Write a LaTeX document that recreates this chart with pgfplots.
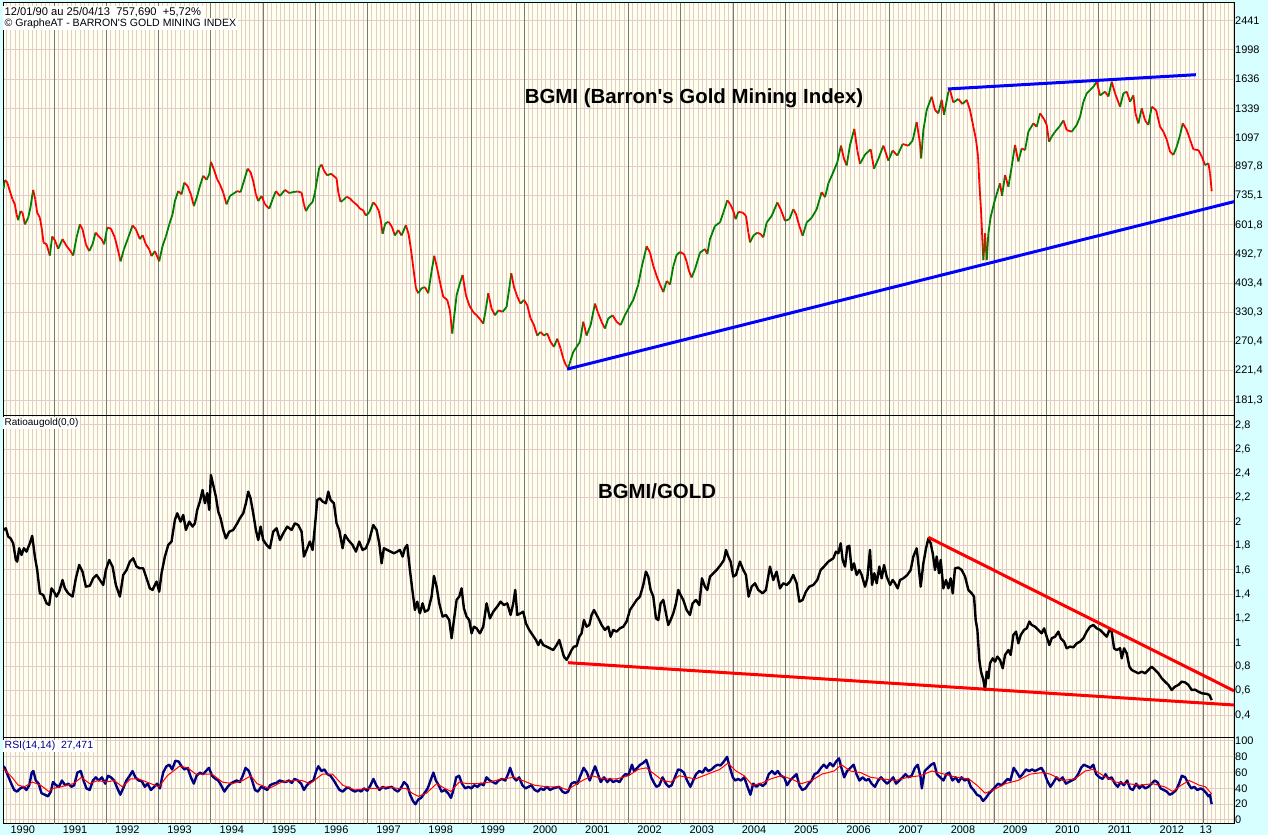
\documentclass[border=0pt]{standalone}
\usepackage{fontspec}
\setmainfont{Liberation Sans}[Ligatures=TeXOff]
\usepackage{pgfplots}
\usepackage{pgfplotstable}
\pgfplotsset{compat=1.18}
\definecolor{bgcyan}{RGB}{215,255,255}
\definecolor{plotbg}{RGB}{255,255,238}
\definecolor{gridpink}{RGB}{228,204,204}
\definecolor{yeargray}{RGB}{120,120,120}
\definecolor{upgreen}{RGB}{0,128,0}
\definecolor{rsinavy}{RGB}{0,0,128}

\pgfplotstableread[row sep=\\]{
t v\\
1990.03 770\\ 1990.056 818\\ 1990.100 806\\ 1990.151 759\\ 1990.203 717\\ 1990.247 693\\ 1990.279 647\\ 1990.311 622\\
1990.356 662\\ 1990.394 654\\ 1990.439 604\\ 1990.503 633\\ 1990.547 680\\ 1990.579 734\\ 1990.598 765\\ 1990.637 717\\
1990.675 654\\ 1990.726 633\\ 1990.764 584\\ 1990.796 533\\ 1990.854 527\\ 1990.917 488\\ 1990.962 556\\ 1991.013 542\\
1991.077 511\\ 1991.160 546\\ 1991.237 521\\ 1991.313 503\\ 1991.364 488\\ 1991.428 552\\ 1991.492 604\\ 1991.543 584\\
1991.607 527\\ 1991.671 503\\ 1991.735 527\\ 1991.792 571\\ 1991.856 556\\ 1991.907 546\\ 1991.958 527\\ 1992.015 591\\
1992.086 587\\ 1992.162 552\\ 1992.226 503\\ 1992.271 469\\ 1992.335 509\\ 1992.418 552\\ 1992.501 600\\ 1992.564 584\\
1992.641 546\\ 1992.692 561\\ 1992.756 527\\ 1992.820 509\\ 1992.864 486\\ 1992.928 503\\ 1993.011 469\\ 1993.075 521\\
1993.139 556\\ 1993.203 604\\ 1993.266 647\\ 1993.311 709\\ 1993.375 759\\ 1993.439 742\\ 1993.490 804\\ 1993.554 786\\
1993.618 742\\ 1993.675 685\\ 1993.739 734\\ 1993.790 786\\ 1993.854 843\\ 1993.918 820\\ 1993.969 852\\ 1994.001 927\\
1994.058 880\\ 1994.122 822\\ 1994.173 795\\ 1994.237 751\\ 1994.301 693\\ 1994.365 734\\ 1994.428 745\\ 1994.505 759\\
1994.569 754\\ 1994.633 813\\ 1994.703 885\\ 1994.760 864\\ 1994.811 813\\ 1994.862 742\\ 1994.907 709\\ 1994.971 734\\
1995.035 693\\ 1995.118 673\\ 1995.181 717\\ 1995.245 759\\ 1995.322 734\\ 1995.418 765\\ 1995.501 749\\ 1995.577 754\\
1995.660 757\\ 1995.737 751\\ 1995.782 693\\ 1995.820 662\\ 1995.884 688\\ 1995.948 704\\ 1995.992 751\\ 1996.024 804\\
1996.075 892\\ 1996.12 910\\ 1996.17 870\\ 1996.23 845\\ 1996.30 855\\ 1996.407 828\\ 1996.439 755\\ 1996.483 705\\
1996.534 713\\ 1996.598 730\\ 1996.662 722\\ 1996.726 705\\ 1996.803 689\\ 1996.854 673\\ 1996.917 665\\ 1996.968 642\\
1997.032 656\\ 1997.109 702\\ 1997.160 689\\ 1997.211 665\\ 1997.249 627\\ 1997.288 566\\ 1997.339 608\\ 1997.402 615\\
1997.466 594\\ 1997.524 560\\ 1997.587 581\\ 1997.651 560\\ 1997.734 601\\ 1997.785 566\\ 1997.830 511\\ 1997.862 467\\
1997.894 427\\ 1997.926 390\\ 1997.971 377\\ 1998.034 390\\ 1998.098 393\\ 1998.162 377\\ 1998.226 438\\ 1998.277 487\\
1998.334 446\\ 1998.398 399\\ 1998.449 368\\ 1998.526 360\\ 1998.577 335\\ 1998.622 286\\ 1998.654 317\\ 1998.705 372\\
1998.769 404\\ 1998.820 427\\ 1998.883 372\\ 1998.947 347\\ 1999.024 331\\ 1999.088 324\\ 1999.164 314\\ 1999.215 306\\
1999.266 339\\ 1999.311 377\\ 1999.375 339\\ 1999.439 324\\ 1999.503 335\\ 1999.586 332\\ 1999.662 343\\ 1999.713 390\\
1999.752 432\\ 1999.803 394\\ 1999.867 368\\ 1999.930 351\\ 1999.994 360\\ 2000.058 347\\ 2000.122 317\\ 2000.186 303\\
2000.249 282\\ 2000.313 289\\ 2000.377 282\\ 2000.441 286\\ 2000.505 270\\ 2000.569 261\\ 2000.632 276\\ 2000.696 258\\
2000.747 241\\ 2000.798 230\\ 2000.843 226\\ 2000.888 238\\ 2000.939 252\\ 2001.003 261\\ 2001.066 270\\ 2001.130 310\\
2001.194 282\\ 2001.271 303\\ 2001.354 351\\ 2001.418 328\\ 2001.481 310\\ 2001.545 296\\ 2001.609 317\\ 2001.692 324\\
2001.769 310\\ 2001.845 303\\ 2001.928 324\\ 2002.011 343\\ 2002.088 360\\ 2002.184 400\\ 2002.248 450\\ 2002.344 520\\
2002.408 498\\ 2002.471 455\\ 2002.535 424\\ 2002.599 400\\ 2002.663 380\\ 2002.727 410\\ 2002.791 400\\ 2002.854 453\\
2002.918 490\\ 2002.982 500\\ 2003.059 493\\ 2003.110 468\\ 2003.154 439\\ 2003.205 420\\ 2003.269 444\\ 2003.365 498\\
2003.461 510\\ 2003.505 493\\ 2003.556 546\\ 2003.652 598\\ 2003.748 612\\ 2003.812 655\\ 2003.888 712\\ 2003.940 696\\
2004.003 663\\ 2004.048 626\\ 2004.099 658\\ 2004.182 655\\ 2004.246 640\\ 2004.291 571\\ 2004.323 534\\ 2004.386 559\\
2004.463 571\\ 2004.527 565\\ 2004.578 553\\ 2004.642 612\\ 2004.737 640\\ 2004.846 702\\ 2004.910 670\\ 2004.993 619\\
2005.076 626\\ 2005.152 670\\ 2005.203 648\\ 2005.267 598\\ 2005.331 559\\ 2005.408 612\\ 2005.503 632\\ 2005.599 670\\
2005.695 754\\ 2005.759 728\\ 2005.823 800\\ 2005.918 865\\ 2005.995 925\\ 2006.065 1036\\ 2006.123 946\\ 2006.174 905\\
2006.237 1040\\ 2006.320 1162\\ 2006.378 1002\\ 2006.429 915\\ 2006.525 975\\ 2006.633 1010\\ 2006.697 885\\ 2006.780 946\\
2006.876 1036\\ 2006.972 935\\ 2007.055 1002\\ 2007.144 968\\ 2007.246 1048\\ 2007.355 1036\\ 2007.437 1073\\ 2007.514 1217\\
2007.578 1052\\ 2007.600 950\\ 2007.642 1153\\ 2007.706 1323\\ 2007.801 1449\\ 2007.865 1323\\ 2007.929 1293\\ 2007.993 1418\\
2008.038 1280\\ 2008.121 1500\\ 2008.152 1516\\ 2008.216 1393\\ 2008.312 1427\\ 2008.389 1378\\ 2008.472 1418\\ 2008.535 1323\\
2008.599 1180\\ 2008.650 1080\\ 2008.689 962\\ 2008.714 800\\ 2008.746 666\\ 2008.772 543\\ 2008.791 473\\ 2008.823 568\\
2008.855 473\\ 2008.887 568\\ 2008.931 636\\ 2008.995 698\\ 2009.059 756\\ 2009.110 800\\ 2009.148 735\\ 2009.206 847\\
2009.270 782\\ 2009.333 897\\ 2009.397 1041\\ 2009.461 930\\ 2009.525 1017\\ 2009.589 1005\\ 2009.652 1140\\ 2009.748 1207\\
2009.812 1180\\ 2009.876 1293\\ 2009.953 1242\\ 2010.004 1194\\ 2010.048 1065\\ 2010.099 1102\\ 2010.163 1140\\ 2010.246 1180\\
2010.323 1232\\ 2010.387 1153\\ 2010.482 1140\\ 2010.578 1194\\ 2010.642 1263\\ 2010.706 1400\\ 2010.770 1483\\ 2010.833 1516\\
2010.897 1552\\ 2010.961 1606\\ 2011.025 1462\\ 2011.121 1500\\ 2011.185 1451\\ 2011.248 1606\\ 2011.312 1483\\ 2011.408 1353\\
2011.472 1483\\ 2011.536 1500\\ 2011.599 1400\\ 2011.663 1462\\ 2011.702 1293\\ 2011.759 1207\\ 2011.823 1338\\ 2011.887 1232\\
2011.950 1194\\ 2012.014 1353\\ 2012.097 1323\\ 2012.174 1180\\ 2012.238 1140\\ 2012.302 1080\\ 2012.365 994\\ 2012.429 972\\
2012.493 1029\\ 2012.557 1114\\ 2012.608 1207\\ 2012.685 1153\\ 2012.748 1080\\ 2012.812 1010\\ 2012.908 1005\\ 2012.972 962\\
2013.036 907\\ 2013.100 918\\ 2013.131 857\\ 2013.163 758\\
}\price
\pgfplotstablecreatecol[create col/expr={sign(\nextrow{v}-\thisrow{v})}]{c}{\price}

\pgfplotsset{
  panel/.style={
    scale only axis, width=1231bp,
    xmin=1990.02, xmax=2013.59,
    axis background/.style={fill=plotbg},
    axis line style={black, line width=1bp},
    major tick length=0pt, minor tick length=0pt,
    tick style={draw=none},
    xtick={1990.4,1991.4,...,2012.4,2013.05},
    minor xtick={1990.0833,1990.1667,...,2013.59},
    xminorgrids=true, xmajorgrids=false, ymajorgrids=true,
    minor grid style={gridpink, line width=1bp},
    major grid style={gridpink, line width=1bp},
    extra x ticks={1991,1992,...,2013},
    extra x tick labels={},
    extra x tick style={xmajorgrids=true, major grid style={yeargray, line width=1bp}},
    yticklabel pos=right,
    yticklabel style={anchor=west, inner sep=1bp, font=\fontsize{11}{12}\selectfont},
    xticklabel style={anchor=north, inner sep=0pt, yshift=-1.5bp, font=\fontsize{11}{12}\selectfont},
  }
}

\begin{document}
\begin{tikzpicture}[x=1bp,y=1bp]
\useasboundingbox (0,0) rectangle (1268,835);
\fill[bgcyan] (0,0) rectangle (1268,835);

% ---------- top panel: BGMI ----------
\begin{axis}[panel, at={(3bp,419bp)}, anchor=south west, height=413bp,
  ymode=log, ymin=162.5, ymax=2755,
  xticklabels={},
  ytick={181.3,221.4,270.4,330.3,403.4,492.7,601.8,735.1,897.8,1097,1339,1636,1998,2441},
  yticklabels={{181,3},{221,4},{270,4},{330,3},{403,4},{492,7},{601,8},{735,1},{897,8},1097,1339,1636,1998,2441},
  colormap={updown}{color=(red) color=(upgreen)},
  point meta min=-1, point meta max=1]
\addplot[mesh, shader=flat corner, point meta=\thisrow{c}, line width=1.8bp] table[x=t,y=v] {\price};
\addplot[blue, line width=3bp] coordinates {(2000.82,224) (2013.59,706)};
\addplot[blue, line width=3bp] coordinates {(2008.11,1528) (2012.86,1685)};
\end{axis}

% ---------- middle panel: ratio ----------
\begin{axis}[panel, at={(3bp,97bp)}, anchor=south west, height=322bp,
  ymin=0.21, ymax=2.874,
  xticklabels={},
  ytick={0.4,0.6,0.8,1,1.2,1.4,1.6,1.8,2,2.2,2.4,2.6,2.8},
  yticklabels={{0,4},{0,6},{0,8},1,{1,2},{1,4},{1,6},{1,8},2,{2,2},{2,4},{2,6},{2,8}}]
\addplot[black, line width=2.4bp, line join=round] coordinates {
(1990.03,1.931) (1990.075,1.945) (1990.120,1.876) (1990.164,1.862) (1990.215,1.821) (1990.266,1.683) (1990.292,1.669)
(1990.330,1.780) (1990.375,1.724) (1990.420,1.780) (1990.471,1.752) (1990.534,1.821) (1990.579,1.882) (1990.630,1.711)
(1990.675,1.600) (1990.726,1.407) (1990.790,1.393) (1990.854,1.324) (1990.905,1.311) (1990.949,1.448) (1990.994,1.421)
(1991.045,1.380) (1991.096,1.421) (1991.160,1.517) (1991.205,1.448) (1991.269,1.407) (1991.352,1.380) (1991.415,1.531)
(1991.479,1.642) (1991.543,1.586) (1991.607,1.462) (1991.683,1.470) (1991.747,1.531) (1991.811,1.559) (1991.875,1.517)
(1991.939,1.476) (1991.990,1.600) (1992.054,1.683) (1992.118,1.628) (1992.181,1.476) (1992.258,1.380) (1992.322,1.559)
(1992.386,1.600) (1992.449,1.669) (1992.513,1.697) (1992.577,1.628) (1992.641,1.614) (1992.705,1.614) (1992.769,1.531)
(1992.832,1.448) (1992.883,1.435) (1992.960,1.504) (1993.011,1.421) (1993.056,1.573) (1993.120,1.711) (1993.184,1.807)
(1993.247,1.835) (1993.311,2.014) (1993.356,2.069) (1993.420,2.000) (1993.471,2.055) (1993.522,1.931) (1993.586,2.000)
(1993.650,1.959) (1993.694,1.986) (1993.739,2.097) (1993.790,2.166) (1993.841,2.262) (1993.886,2.152) (1993.930,2.235)
(1993.969,2.097) (1994.001,2.386) (1994.045,2.304) (1994.096,2.207) (1994.141,2.083) (1994.186,2.028) (1994.237,1.931)
(1994.288,1.862) (1994.352,1.917) (1994.428,1.931) (1994.505,1.986) (1994.556,2.028) (1994.620,2.069) (1994.671,2.152)
(1994.715,2.248) (1994.760,2.193) (1994.811,2.069) (1994.862,1.931) (1994.907,1.848) (1994.952,1.959) (1995.003,1.848)
(1995.067,1.807) (1995.130,1.780) (1995.194,1.917) (1995.258,1.945) (1995.322,1.848) (1995.386,1.903) (1995.462,1.959)
(1995.545,1.931) (1995.609,1.986) (1995.673,1.972) (1995.737,1.917) (1995.782,1.711) (1995.833,1.766) (1995.896,1.835)
(1995.947,1.766) (1995.992,1.959) (1996.037,2.179) (1996.088,2.193) (1996.139,2.166) (1996.203,2.152) (1996.248,2.248)
(1996.292,2.179) (1996.356,2.152) (1996.407,1.986) (1996.458,1.931) (1996.522,1.780) (1996.567,1.890) (1996.631,1.848)
(1996.713,1.807) (1996.777,1.752) (1996.841,1.835) (1996.905,1.766) (1996.969,1.780) (1997.033,1.848) (1997.109,1.972)
(1997.173,1.931) (1997.224,1.821) (1997.269,1.655) (1997.313,1.780) (1997.377,1.766) (1997.441,1.752) (1997.505,1.738)
(1997.569,1.752) (1997.620,1.766) (1997.671,1.711) (1997.715,1.780) (1997.760,1.807) (1997.811,1.600) (1997.862,1.421)
(1997.907,1.269) (1997.952,1.338) (1997.990,1.255) (1998.003,1.242) (1998.054,1.324) (1998.098,1.255) (1998.162,1.269)
(1998.226,1.380) (1998.271,1.551) (1998.322,1.462) (1998.373,1.324) (1998.437,1.214) (1998.500,1.228) (1998.564,1.186)
(1998.609,1.035) (1998.654,1.186) (1998.705,1.352) (1998.756,1.380) (1998.800,1.448) (1998.845,1.283) (1998.896,1.214)
(1998.947,1.186) (1998.992,1.076) (1999.037,1.131) (1999.088,1.117) (1999.151,1.076) (1999.215,1.131) (1999.279,1.324)
(1999.343,1.200) (1999.407,1.255) (1999.483,1.297) (1999.547,1.338) (1999.611,1.310) (1999.675,1.324) (1999.739,1.228)
(1999.790,1.324) (1999.828,1.435) (1999.866,1.228) (1999.930,1.242) (1999.981,1.255) (2000.032,1.159) (2000.096,1.104)
(2000.160,1.062) (2000.224,1.021) (2000.269,0.979) (2000.313,1.021) (2000.364,0.979) (2000.428,0.966) (2000.492,0.952)
(2000.556,0.938) (2000.620,0.979) (2000.671,1.021) (2000.715,0.952) (2000.760,0.883) (2000.811,0.856) (2000.862,0.897)
(2000.907,0.938) (2000.952,0.966) (2001.003,0.970) (2001.054,1.048) (2001.098,1.076) (2001.143,1.186) (2001.194,1.131)
(2001.245,1.145) (2001.290,1.228) (2001.335,1.269) (2001.386,1.228) (2001.437,1.186) (2001.481,1.145) (2001.545,1.104)
(2001.609,1.131) (2001.654,1.048) (2001.705,1.104) (2001.769,1.090) (2001.832,1.117) (2001.896,1.131) (2001.960,1.173)
(2002.024,1.269) (2002.088,1.310) (2002.152,1.352) (2002.216,1.380) (2002.279,1.476) (2002.330,1.586) (2002.375,1.545)
(2002.420,1.435) (2002.471,1.380) (2002.522,1.200) (2002.567,1.186) (2002.611,1.324) (2002.662,1.352) (2002.713,1.242)
(2002.758,1.145) (2002.803,1.186) (2002.854,1.242) (2002.905,1.324) (2002.949,1.435) (2002.994,1.393) (2003.045,1.352)
(2003.109,1.269) (2003.173,1.228) (2003.224,1.324) (2003.288,1.352) (2003.352,1.310) (2003.403,1.531) (2003.460,1.462)
(2003.505,1.435) (2003.556,1.545) (2003.620,1.573) (2003.684,1.600) (2003.760,1.641) (2003.824,1.683) (2003.862,1.766)
(2003.907,1.711) (2003.952,1.669) (2004.003,1.545) (2004.054,1.559) (2004.130,1.669) (2004.194,1.600) (2004.245,1.559)
(2004.296,1.380) (2004.354,1.462) (2004.418,1.490) (2004.481,1.435) (2004.564,1.407) (2004.628,1.435) (2004.705,1.628)
(2004.769,1.517) (2004.832,1.586) (2004.896,1.448) (2004.960,1.490) (2005.024,1.476) (2005.088,1.504) (2005.152,1.559)
(2005.216,1.490) (2005.267,1.338) (2005.330,1.352) (2005.394,1.421) (2005.458,1.462) (2005.535,1.476) (2005.611,1.517)
(2005.675,1.600) (2005.739,1.628) (2005.822,1.669) (2005.918,1.697) (2005.969,1.752) (2006.014,1.738) (2006.059,1.821)
(2006.097,1.683) (2006.142,1.628) (2006.186,1.793) (2006.225,1.800) (2006.269,1.600) (2006.314,1.655) (2006.365,1.559)
(2006.416,1.600) (2006.461,1.559) (2006.525,1.462) (2006.569,1.531) (2006.620,1.766) (2006.659,1.476) (2006.703,1.573)
(2006.748,1.490) (2006.799,1.628) (2006.844,1.531) (2006.889,1.641) (2006.940,1.545) (2007.004,1.476) (2007.055,1.517)
(2007.099,1.490) (2007.150,1.448) (2007.195,1.517) (2007.259,1.531) (2007.335,1.559) (2007.399,1.600) (2007.450,1.711)
(2007.514,1.779) (2007.546,1.655) (2007.591,1.462) (2007.642,1.655) (2007.693,1.779) (2007.738,1.862) (2007.782,1.821)
(2007.821,1.738) (2007.865,1.600) (2007.897,1.711) (2007.942,1.573) (2007.974,1.683) (2008.025,1.448) (2008.076,1.517)
(2008.121,1.448) (2008.165,1.531) (2008.204,1.407) (2008.248,1.614) (2008.312,1.620) (2008.376,1.600) (2008.440,1.545)
(2008.504,1.435) (2008.567,1.407) (2008.612,1.380) (2008.644,1.186) (2008.676,1.104) (2008.714,0.855) (2008.746,0.759)
(2008.791,0.690) (2008.823,0.607) (2008.855,0.759) (2008.887,0.704) (2008.918,0.828) (2008.970,0.869) (2009.014,0.842)
(2009.059,0.883) (2009.110,0.855) (2009.161,0.787) (2009.206,0.897) (2009.270,0.938) (2009.314,0.897) (2009.365,1.062)
(2009.416,1.090) (2009.461,0.993) (2009.506,1.062) (2009.570,1.104) (2009.621,1.117) (2009.672,1.173) (2009.716,1.145)
(2009.780,1.131) (2009.844,1.104) (2009.908,1.076) (2009.953,1.117) (2010.004,1.048) (2010.055,0.979) (2010.099,1.035)
(2010.163,1.048) (2010.227,1.090) (2010.272,1.035) (2010.335,1.007) (2010.386,0.952) (2010.450,0.966) (2010.514,0.960)
(2010.578,0.993) (2010.642,1.007) (2010.706,1.035) (2010.769,1.090) (2010.833,1.131) (2010.897,1.145) (2010.961,1.117)
(2011.025,1.104) (2011.089,1.076) (2011.153,1.048) (2011.204,1.104) (2011.248,1.090) (2011.293,0.952) (2011.344,0.938)
(2011.408,0.952) (2011.440,0.869) (2011.485,0.952) (2011.536,0.910) (2011.587,0.800) (2011.631,0.773) (2011.695,0.759)
(2011.759,0.745) (2011.823,0.759) (2011.887,0.745) (2011.950,0.773) (2012.014,0.800) (2012.078,0.773) (2012.142,0.745)
(2012.206,0.704) (2012.270,0.676) (2012.334,0.649) (2012.397,0.607) (2012.461,0.635) (2012.525,0.649) (2012.589,0.676)
(2012.653,0.670) (2012.717,0.649) (2012.780,0.607) (2012.844,0.610) (2012.908,0.593) (2012.972,0.580) (2013.067,0.575)
(2013.118,0.566) (2013.163,0.524)};
\addplot[red, line width=3bp] coordinates {(2000.84,0.833) (2013.59,0.483)};
\addplot[red, line width=3bp] coordinates {(2007.738,1.870) (2013.59,0.600)};
\end{axis}

% ---------- bottom panel: RSI ----------
\begin{axis}[panel, at={(3bp,11bp)}, anchor=south west, height=86bp,
  ymin=-5.06, ymax=103.8,
  xticklabels={1990,1991,1992,1993,1994,1995,1996,1997,1998,1999,2000,2001,2002,2003,2004,2005,2006,2007,2008,2009,2010,2011,2012,13},
  ytick={0,20,40,60,80,100},
  yticklabels={0,20,40,60,80,100}]
\addplot[rsinavy, line width=2.4bp, line join=round] coordinates {
(1990.03,68) (1990.054,66) (1990.116,56) (1990.179,46) (1990.234,38) (1990.288,36) (1990.351,40) (1990.413,42)
(1990.468,38) (1990.523,44) (1990.570,60) (1990.601,62) (1990.648,50) (1990.703,46) (1990.757,34) (1990.820,32)
(1990.882,30) (1990.937,36) (1990.976,48) (1991.039,44) (1991.093,42) (1991.148,50) (1991.211,44) (1991.273,46)
(1991.328,42) (1991.383,44) (1991.445,60) (1991.508,62) (1991.562,50) (1991.617,40) (1991.680,38) (1991.742,50)
(1991.797,54) (1991.852,50) (1991.914,54) (1991.977,46) (1992.031,56) (1992.086,54) (1992.148,50) (1992.211,40)
(1992.266,32) (1992.320,40) (1992.383,50) (1992.446,56) (1992.500,62) (1992.555,54) (1992.617,50) (1992.680,49)
(1992.735,42) (1992.789,46) (1992.852,38) (1992.914,42) (1992.969,46) (1993.024,40) (1993.086,60) (1993.149,68)
(1993.204,70) (1993.258,64) (1993.321,75) (1993.383,74) (1993.438,68) (1993.493,64) (1993.555,66) (1993.618,54)
(1993.673,46) (1993.727,56) (1993.790,60) (1993.852,58) (1993.907,62) (1993.962,66) (1994.024,56) (1994.087,52)
(1994.142,50) (1994.196,44) (1994.259,36) (1994.321,42) (1994.376,46) (1994.431,48) (1994.493,50) (1994.556,48)
(1994.611,56) (1994.665,66) (1994.728,62) (1994.790,50) (1994.845,38) (1994.900,36) (1994.962,42) (1995.025,40)
(1995.080,38) (1995.134,44) (1995.197,46) (1995.259,47) (1995.314,50) (1995.369,49) (1995.431,48) (1995.494,50)
(1995.549,47) (1995.603,52) (1995.666,50) (1995.728,46) (1995.783,38) (1995.838,44) (1995.900,48) (1995.963,50)
(1996.018,62) (1996.057,68) (1996.119,62) (1996.174,64) (1996.229,58) (1996.291,56) (1996.354,50) (1996.408,44)
(1996.463,38) (1996.526,36) (1996.588,40) (1996.643,41) (1996.698,38) (1996.760,36) (1996.823,38) (1996.877,36)
(1996.932,40) (1996.995,37) (1997.057,44) (1997.112,52) (1997.166,44) (1997.229,38) (1997.292,42) (1997.346,40)
(1997.401,41) (1997.463,42) (1997.526,38) (1997.581,36) (1997.635,40) (1997.698,48) (1997.760,44) (1997.815,32)
(1997.870,24) (1997.917,20) (1997.972,26) (1998.026,28) (1998.089,34) (1998.151,40) (1998.206,50) (1998.261,60)
(1998.308,50) (1998.362,44) (1998.417,36) (1998.480,38) (1998.542,34) (1998.597,28) (1998.636,36) (1998.698,54)
(1998.753,56) (1998.808,46) (1998.870,40) (1998.933,42) (1998.987,40) (1999.042,44) (1999.105,42) (1999.167,46)
(1999.222,44) (1999.277,54) (1999.339,50) (1999.402,48) (1999.456,46) (1999.511,50) (1999.574,52) (1999.636,50)
(1999.691,58) (1999.730,66) (1999.793,54) (1999.847,50) (1999.902,54) (1999.965,44) (2000.027,40) (2000.082,42)
(2000.137,44) (2000.199,38) (2000.262,36) (2000.316,40) (2000.371,38) (2000.434,42) (2000.496,38) (2000.551,40)
(2000.606,41) (2000.668,42) (2000.731,36) (2000.785,34) (2000.840,36) (2000.903,46) (2000.965,48) (2001.020,46)
(2001.075,56) (2001.137,66) (2001.200,60) (2001.254,50) (2001.309,60) (2001.356,68) (2001.411,58) (2001.465,48)
(2001.528,54) (2001.590,48) (2001.645,52) (2001.700,48) (2001.763,50) (2001.825,48) (2001.880,54) (2001.934,58)
(2001.997,57) (2002.063,70) (2002.102,62) (2002.165,66) (2002.219,70) (2002.274,72) (2002.337,76) (2002.376,68)
(2002.430,54) (2002.493,46) (2002.532,42) (2002.587,44) (2002.649,54) (2002.712,46) (2002.767,42) (2002.821,44)
(2002.884,54) (2002.946,64) (2003.001,63) (2003.056,60) (2003.118,50) (2003.181,42) (2003.235,50) (2003.290,58)
(2003.353,62) (2003.415,60) (2003.470,66) (2003.525,62) (2003.587,64) (2003.650,68) (2003.704,70) (2003.759,69)
(2003.822,74) (2003.884,80) (2003.939,66) (2003.994,54) (2004.041,50) (2004.095,52) (2004.150,50) (2004.212,54)
(2004.275,42) (2004.330,32) (2004.384,46) (2004.447,42) (2004.510,46) (2004.564,43) (2004.619,46) (2004.681,58)
(2004.744,62) (2004.799,58) (2004.853,62) (2004.916,56) (2004.978,54) (2005.033,44) (2005.088,50) (2005.150,54)
(2005.213,58) (2005.268,44) (2005.322,38) (2005.385,40) (2005.447,46) (2005.502,50) (2005.557,58) (2005.619,60)
(2005.682,66) (2005.737,70) (2005.791,66) (2005.854,72) (2005.916,68) (2005.971,74) (2006.026,78) (2006.073,66)
(2006.127,54) (2006.182,62) (2006.245,66) (2006.307,70) (2006.362,58) (2006.417,50) (2006.479,54) (2006.542,50)
(2006.596,52) (2006.651,46) (2006.714,42) (2006.776,50) (2006.831,54) (2006.886,50) (2006.948,46) (2007.011,50)
(2007.065,54) (2007.120,46) (2007.183,50) (2007.245,54) (2007.300,58) (2007.355,54) (2007.417,56) (2007.480,66)
(2007.534,70) (2007.589,54) (2007.613,40) (2007.667,62) (2007.730,66) (2007.792,70) (2007.847,72) (2007.902,58)
(2007.964,54) (2008.027,50) (2008.082,58) (2008.136,60) (2008.199,50) (2008.261,54) (2008.316,48) (2008.371,54)
(2008.433,50) (2008.496,52) (2008.550,42) (2008.605,38) (2008.668,32) (2008.730,30) (2008.785,24) (2008.840,28)
(2008.902,34) (2008.965,38) (2009.019,42) (2009.074,46) (2009.137,44) (2009.199,48) (2009.254,52) (2009.309,50)
(2009.371,66) (2009.434,60) (2009.488,54) (2009.543,58) (2009.606,64) (2009.668,62) (2009.723,64) (2009.777,62)
(2009.840,64) (2009.903,66) (2009.957,60) (2010.012,50) (2010.075,42) (2010.137,48) (2010.192,54) (2010.246,50)
(2010.309,54) (2010.372,46) (2010.426,48) (2010.481,50) (2010.543,52) (2010.606,58) (2010.661,66) (2010.715,70)
(2010.778,68) (2010.841,66) (2010.895,70) (2010.950,58) (2011.013,54) (2011.075,52) (2011.130,58) (2011.185,52)
(2011.247,54) (2011.310,46) (2011.364,42) (2011.419,48) (2011.482,44) (2011.544,50) (2011.599,40) (2011.654,38)
(2011.716,46) (2011.778,40) (2011.833,44) (2011.888,40) (2011.950,42) (2012.013,46) (2012.068,50) (2012.122,48)
(2012.185,40) (2012.247,38) (2012.302,36) (2012.357,32) (2012.419,34) (2012.482,38) (2012.537,46) (2012.591,56)
(2012.654,54) (2012.716,46) (2012.771,40) (2012.826,42) (2012.888,38) (2012.951,40) (2013.006,38) (2013.060,34)
(2013.100,30) (2013.130,32) (2013.150,24) (2013.163,20)};
\addplot[red, line width=1bp] coordinates {
(1990.03,65) (1990.194,54) (1990.312,44) (1990.429,42) (1990.585,48) (1990.742,44) (1990.898,36) (1990.976,40)
(1991.132,42) (1991.367,46) (1991.523,54) (1991.680,46) (1991.836,50) (1991.992,48) (1992.148,50) (1992.305,42)
(1992.461,52) (1992.617,52) (1992.852,46) (1993.008,42) (1993.165,56) (1993.399,68) (1993.555,66) (1993.712,58)
(1993.868,58) (1994.024,58) (1994.220,48) (1994.415,46) (1994.611,50) (1994.767,56) (1994.884,46) (1995.119,40)
(1995.353,48) (1995.588,50) (1995.744,50) (1995.900,46) (1996.135,58) (1996.330,58) (1996.526,44) (1996.760,38)
(1996.995,40) (1997.190,40) (1997.385,42) (1997.581,40) (1997.737,40) (1997.854,34) (1997.972,30) (1998.128,34)
(1998.323,46) (1998.480,40) (1998.597,36) (1998.753,48) (1998.909,46) (1999.105,46) (1999.339,48) (1999.574,52)
(1999.808,54) (1999.965,50) (2000.199,44) (2000.434,42) (2000.668,42) (2000.825,38) (2001.059,48) (2001.294,56)
(2001.528,52) (2001.763,52) (2001.997,56) (2002.180,64) (2002.337,66) (2002.493,58) (2002.649,50) (2002.806,48)
(2002.962,56) (2003.118,54) (2003.275,52) (2003.431,56) (2003.587,60) (2003.744,64) (2003.900,72) (2004.056,62)
(2004.212,56) (2004.369,44) (2004.525,46) (2004.721,52) (2004.916,56) (2005.111,52) (2005.307,46) (2005.502,50)
(2005.698,58) (2005.932,62) (2006.073,70) (2006.245,62) (2006.440,60) (2006.635,54) (2006.870,52) (2007.104,50)
(2007.339,54) (2007.573,56) (2007.808,62) (2008.042,58) (2008.277,54) (2008.511,52) (2008.668,44) (2008.824,34)
(2008.980,38) (2009.215,46) (2009.449,50) (2009.684,58) (2009.918,60) (2010.075,58) (2010.309,50) (2010.543,52)
(2010.739,62) (2010.895,64) (2011.091,56) (2011.325,48) (2011.560,46) (2011.794,44) (2012.029,46) (2012.263,42)
(2012.419,36) (2012.576,44) (2012.732,50) (2012.927,44) (2013.044,42) (2013.163,33)};
\end{axis}

% ---------- texts ----------
\node[anchor=west, fill=white, inner sep=1.5bp, font=\fontsize{11.2}{12}\selectfont] at (3,823) {12/01/90 au 25/04/13\ \ 757,690\ \ +5,72\%};
\node[anchor=west, fill=white, inner sep=1.5bp, font=\fontsize{10.6}{12}\selectfont] at (3,811) {\textcopyright\ GrapheAT - BARRON'S GOLD MINING INDEX};
\node[font=\bfseries\fontsize{20.5}{22}\selectfont] at (694,737) {BGMI (Barron's Gold Mining Index)};
\node[font=\bfseries\fontsize{20.5}{22}\selectfont] at (657,344) {BGMI/GOLD};
\node[anchor=west, fill=white, inner sep=1.5bp, font=\fontsize{10}{12}\selectfont] at (3,412) {Ratioaugold(0,0)};
\node[anchor=west, fill=white, inner sep=1.5bp, text=rsinavy, font=\fontsize{10.5}{12}\selectfont] at (3,89) {RSI(14,14)\ \ 27,471};
\end{tikzpicture}
\end{document}
